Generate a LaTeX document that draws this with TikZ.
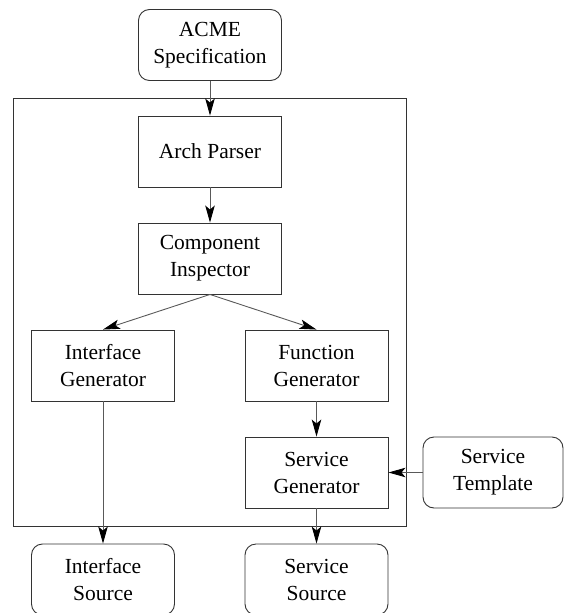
\documentclass[tikz,border=0pt]{standalone}
\usepackage{fontspec}
\setmainfont{Liberation Serif}
\newfontfamily\diagfont{Liberation Serif}
\usetikzlibrary{arrows.meta}
\begin{document}
\begin{tikzpicture}[x=1pt,y=-1pt,
  every node/.style={font=\diagfont\fontsize{21.5}{27}\selectfont, align=center, inner sep=0pt},
  procbox/.style={draw=black!80, line width=0.9pt, minimum width=143pt, minimum height=71pt},
  databox/.style={procbox, rounded corners=11pt},
  conn/.style={draw=black!65, line width=0.9pt, -{Stealth[length=17pt,width=9.5pt,inset=4pt,black]}}]
\useasboundingbox (0,0) rectangle (564,613);
\node[draw=black!80, line width=0.9pt, minimum width=393pt, minimum height=428pt] (frame) at (209.5,312) {};
\node[databox] (acme) at (210,45) {ACME\\Specification};
\node[procbox] (arch) at (210,151.5) {Arch Parser};
\node[procbox] (comp) at (210,258.5) {Component\\Inspector};
\node[procbox] (igen) at (103,365.5) {Interface\\Generator};
\node[procbox] (fgen) at (316.5,365.5) {Function\\Generator};
\node[procbox] (sgen) at (316.5,472.5) {Service\\Generator};
\node[databox, minimum width=140pt] (stemp) at (493,472.5) {Service\\Template};
\node[databox] (isrc) at (103,579.5) {Interface\\Source};
\node[databox] (ssrc) at (316.5,579.5) {Service\\Source};
\draw[conn] (acme) -- (arch);
\draw[conn] (arch) -- (comp);
\draw[conn] (comp.south) -- (igen.north);
\draw[conn] (comp.south) -- (fgen.north);
\draw[conn] (fgen) -- (sgen);
\draw[conn] (stemp) -- (sgen);
\draw[conn] (igen) -- (isrc);
\draw[conn] (sgen) -- (ssrc);
\end{tikzpicture}
\end{document}
